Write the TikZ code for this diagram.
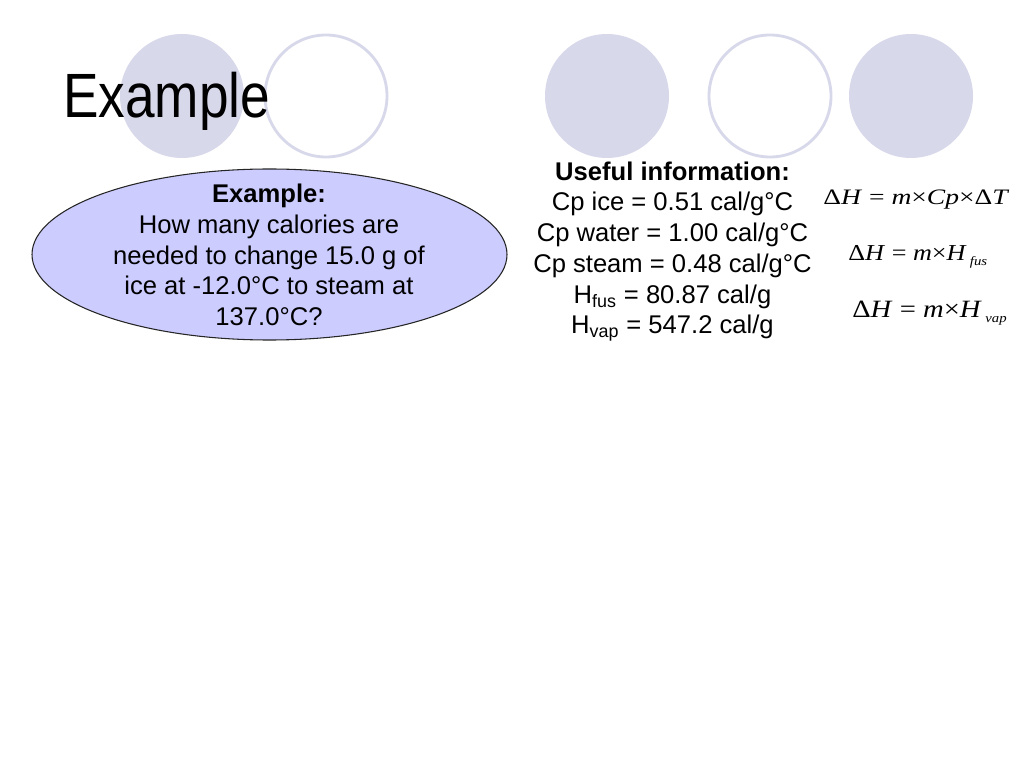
\documentclass[tikz,border=0pt]{standalone}
\usepackage{fontspec}
\setmainfont{Liberation Sans}
\newfontfamily\eqfont{Liberation Serif}
\definecolor{dotlilac}{RGB}{216,216,235}
\definecolor{askblue}{RGB}{204,204,255}
\newcommand{\lowsub}[1]{\hspace{0.12em}\raisebox{-0.45ex}{\fontsize{9}{10}\selectfont\itshape #1}}
\begin{document}
\begin{tikzpicture}[x=0.703125pt,y=-0.703125pt,
  dotfill/.style={fill=dotlilac},
  dotring/.style={draw=dotlilac,line width=2pt},
  body/.style={align=center,inner sep=0pt,font=\fontsize{18}{21.6}\selectfont},
  eq/.style={anchor=base west,inner sep=0pt}]
\useasboundingbox[fill=white] (0,0) rectangle (1024,768);
\fill[dotfill] (182,96) circle (62);
\draw[dotring] (326,96) circle (61);
\fill[dotfill] (607,96) circle (62);
\draw[dotring] (770,96) circle (61);
\fill[dotfill] (911,96) circle (62);
\node[anchor=base west,inner sep=0pt,xscale=0.85,font=\fontsize{44}{52.8}\selectfont] (title) at (63,118) {Example};

\coordinate (askcentre) at (269.5,254.5);
\draw[draw=black!85,fill=askblue,line width=0.75pt] (askcentre) ellipse [x radius=237.5,y radius=85.5];
\node[body] (question) at (269,255) {\textbf{Example:}\\How many calories are\\needed to change 15.0 g of\\ice at -12.0°C to steam at\\137.0°C?};

\node[body] (info) at (672.5,251.5) {\textbf{Useful information:}\\Cp ice = 0.51 cal/g°C\\Cp water = 1.00 cal/g°C\\Cp steam = 0.48 cal/g°C\\H\textsubscript{fus} = 80.87 cal/g\\H\textsubscript{vap} = 547.2 cal/g};

\node[eq,xscale=1.25,font=\eqfont\fontsize{15.5}{18}\selectfont] (heat) at (823,205) {Δ\textit{H} = \textit{m}×\textit{Cp}×Δ\textit{T}};
\node[eq,xscale=1.15,font=\eqfont\fontsize{16}{18}\selectfont] (fusion) at (848,260.5) {Δ\textit{H} = \textit{m}×\textit{H}\lowsub{fus}};
\node[eq,xscale=1.15,font=\eqfont\fontsize{17.5}{20}\selectfont] (vapour) at (852,317.5) {Δ\textit{H} = \textit{m}×\textit{H}\lowsub{vap}};
\end{tikzpicture}
\end{document}
